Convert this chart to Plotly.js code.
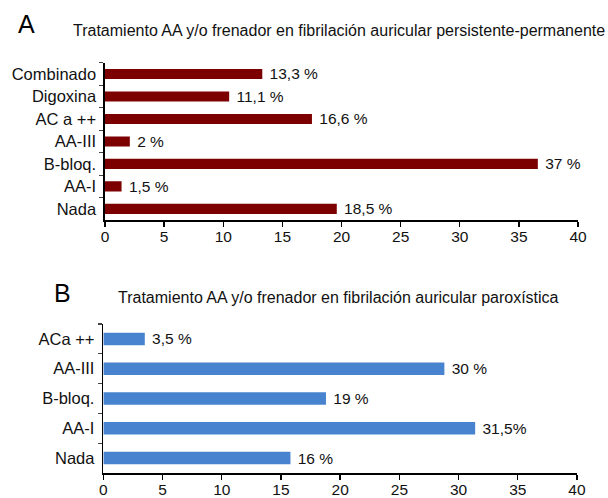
<!DOCTYPE html>
<html>
<head>
<meta charset="utf-8">
<script src="https://cdn.plot.ly/plotly-3.0.1.min.js"></script>
<style>html,body{margin:0;padding:0;background:#fff;}#chart{width:608px;height:498px;}</style>
</head>
<body>
<div id="chart"></div>
<script>
// Panel A: persistente-permanente (top to bottom)
const catsA = ["Combinado", "Digoxina", "AC a ++", "AA-III", "B-bloq.", "AA-I", "Nada"];
const valsA = [13.3, 10.5, 17.5, 2.1, 36.6, 1.4, 19.6];
const labelsA = ["13,3 %", "11,1 %", "16,6 %", "2 %", "37 %", "1,5 %", "18,5 %"];

// Panel B: paroxística (top to bottom)
const catsB = ["ACa ++", "AA-III", "B-bloq.", "AA-I", "Nada"];
const valsB = [3.5, 28.8, 18.8, 31.4, 15.8];
const labelsB = ["3,5 %", "30 %", "19 %", "31,5%", "16 %"];

const xTicks = [0, 5, 10, 15, 20, 25, 30, 35, 40];

const FONT = "Liberation Sans, Arial, Helvetica, sans-serif";
const fs = 15.5;

const traces = [
  {
    type: "bar", orientation: "h", y: catsA, x: valsA,
    text: labelsA, texttemplate: "\u00a0%{text}", textposition: "outside", cliponaxis: false, constraintext: "none",
    textfont: {family: FONT, size: fs, color: "#111"},
    marker: {color: "#7d0000"}, width: 0.45,
    xaxis: "x", yaxis: "y", hoverinfo: "skip"
  },
  {
    type: "bar", orientation: "h", y: catsB, x: valsB,
    text: labelsB, texttemplate: "\u00a0%{text}", textposition: "outside", cliponaxis: false, constraintext: "none",
    textfont: {family: FONT, size: fs, color: "#111"},
    marker: {color: "#4883cf"}, width: 0.42,
    xaxis: "x2", yaxis: "y2", hoverinfo: "skip"
  }
];

const xCommon = {
  range: [0, 40], tickvals: xTicks, ticktext: xTicks.map(String),
  showgrid: false, zeroline: false, showline: true, linecolor: "#000", linewidth: 1.6,
  ticks: "outside", ticklen: 5, tickwidth: 1.4, tickcolor: "#000",
  ticklabelstandoff: -3,
  tickfont: {family: FONT, size: fs, color: "#111"}, fixedrange: true
};
const yCommon = {
  autorange: "reversed", showgrid: false, zeroline: false, showline: true,
  linecolor: "#000", linewidth: 1.6, ticks: "outside", ticklen: 4, tickwidth: 1.2,
  tickcolor: "#444", tickson: "boundaries", ticklabelstandoff: 4,
  tickfont: {family: FONT, size: 16.5, color: "#111"}, fixedrange: true
};

const layout = {
  width: 608, height: 498,
  margin: {l: 0, r: 0, t: 0, b: 0},
  paper_bgcolor: "#fff", plot_bgcolor: "#fff",
  showlegend: false,
  bargap: 0.5,
  xaxis: Object.assign({}, xCommon, {domain: [0.1727, 0.9507], anchor: "y"}),
  yaxis: Object.assign({}, yCommon, {domain: [0.558, 0.874], anchor: "x"}),
  xaxis2: Object.assign({}, xCommon, {domain: [0.170, 0.949], anchor: "y2"}),
  yaxis2: Object.assign({}, yCommon, {domain: [0.0502, 0.3494], anchor: "x2"}),
  annotations: [
    {text: "A", xref: "paper", yref: "paper", x: 0.026, y: 0.952, xanchor: "left", yanchor: "middle",
     showarrow: false, font: {family: FONT, size: 25, color: "#000"}},
    {text: "Tratamiento AA y/o frenador en fibrilación auricular persistente-permanente",
     xref: "paper", yref: "paper", x: 0.117, y: 0.938, xanchor: "left", yanchor: "middle",
     showarrow: false, font: {family: FONT, size: 16, color: "#111"}},
    {text: "B", xref: "paper", yref: "paper", x: 0.085, y: 0.4116, xanchor: "left", yanchor: "middle",
     showarrow: false, font: {family: FONT, size: 25, color: "#000"}},
    {text: "Tratamiento AA y/o frenador en fibrilación auricular paroxística",
     xref: "paper", yref: "paper", x: 0.191, y: 0.4036, xanchor: "left", yanchor: "middle",
     showarrow: false, font: {family: FONT, size: 16, color: "#111"}}
  ]
};

Plotly.newPlot("chart", traces, layout, {staticPlot: true, displayModeBar: false});
</script>
</body>
</html>
